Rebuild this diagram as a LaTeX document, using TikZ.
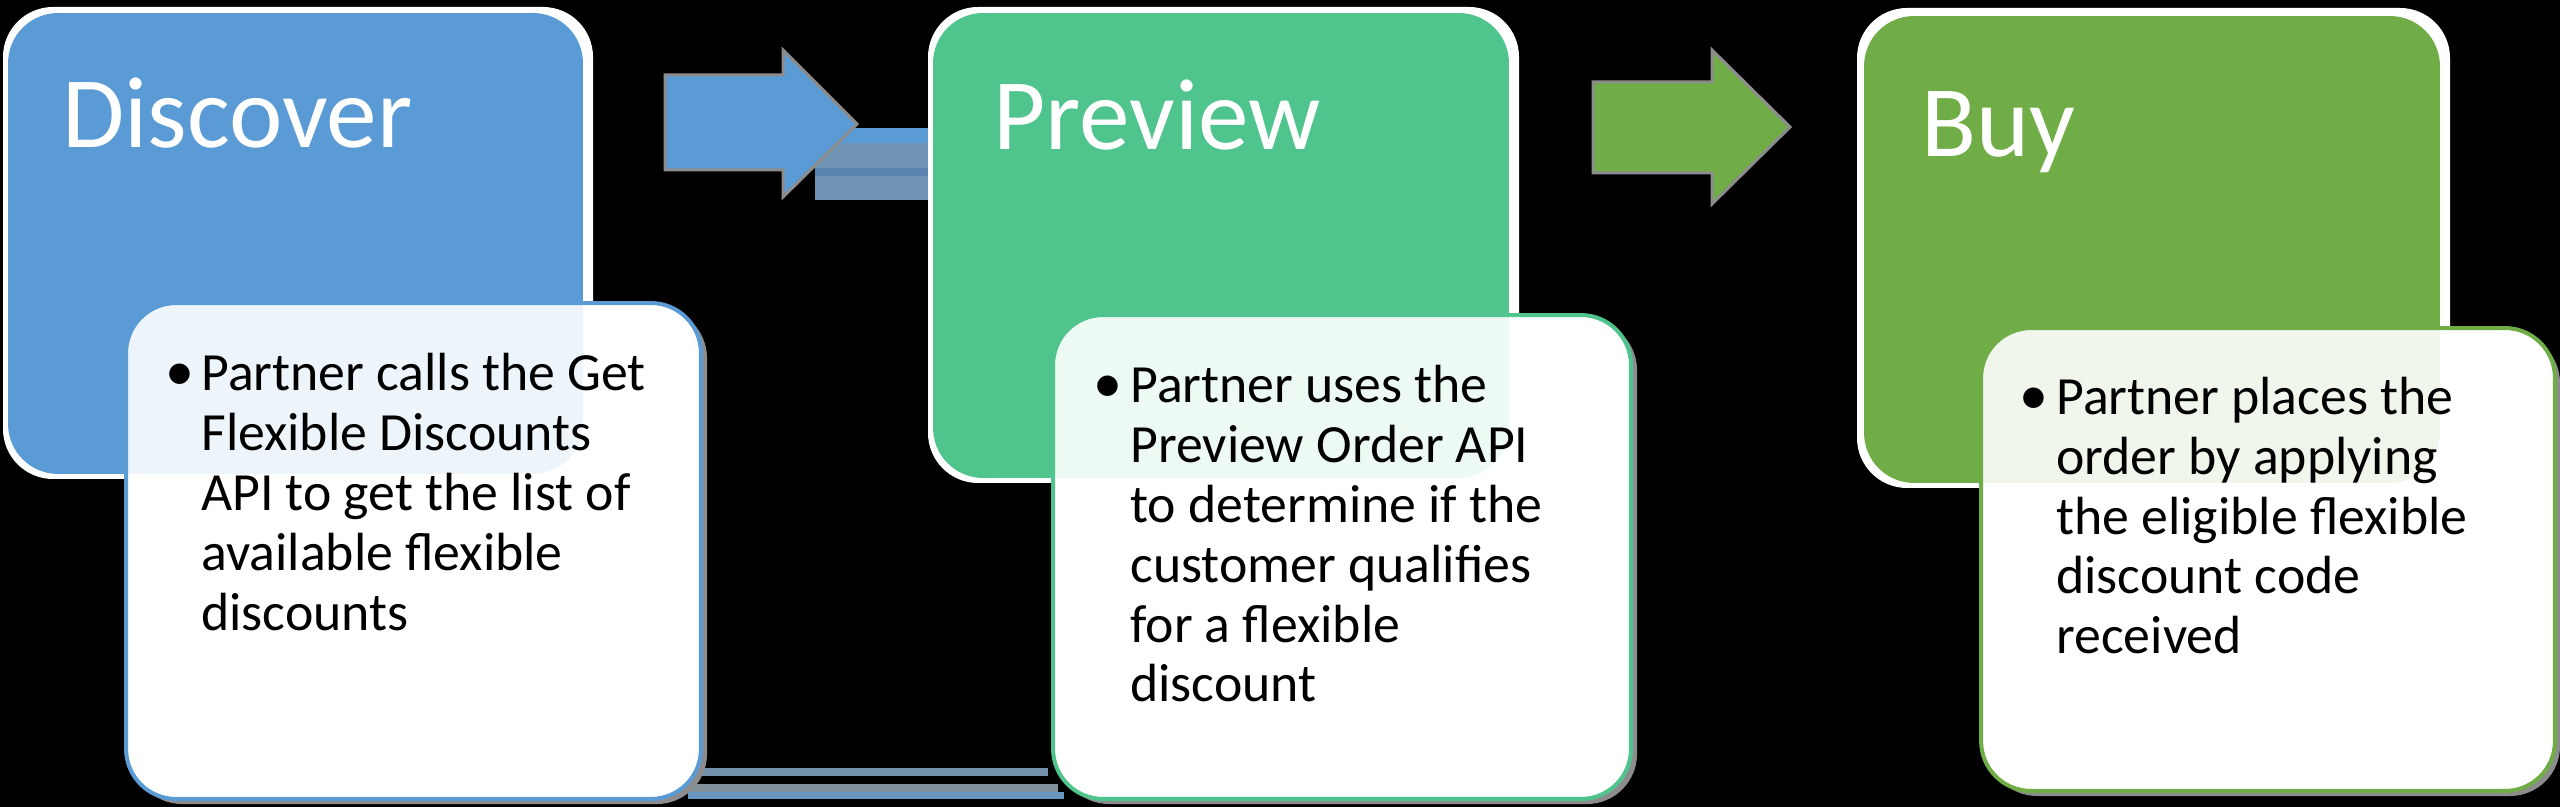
\documentclass[tikz,border=0pt]{standalone}
\usepackage{fontspec}
\setmainfont{Carlito}
\definecolor{cblue}{HTML}{5B9BD5}
\definecolor{cteal}{HTML}{4FC48D}
\definecolor{cgreen}{HTML}{70AD47}
\definecolor{cshadow}{HTML}{8C8C8C}
\definecolor{bandA}{HTML}{6E93B3}
\definecolor{bandB}{HTML}{5A82AE}
\definecolor{bandC}{HTML}{7290AC}
\definecolor{bandD}{HTML}{82909C}
\definecolor{bandE}{HTML}{6A97C2}
\begin{document}
\begin{tikzpicture}[x=0.02cm,y=-0.02cm,
  stage/.style={rectangle, rounded corners=1cm, inner sep=0pt, outer sep=0pt, draw=none},
  card/.style={rectangle, rounded corners=1cm, inner sep=0pt, outer sep=0pt, fill=white, fill opacity=0.9, line width=0.8mm},
  rim/.style={fill=white, rounded corners=1cm},
  shade/.style={fill=cshadow, rounded corners=1cm},
  solid/.style={fill=white, rounded corners=1cm},
  blockarrow/.style={draw=cshadow, line width=0.6mm, line join=miter},
  title/.style={font=\fontsize{57.6}{69}\selectfont, text=white, inner sep=0pt, anchor=base west},
  body/.style={font=\fontsize{30.6}{34.02}\selectfont, text=black, inner sep=0pt},
  dot/.style={font=\fontsize{33}{34.02}\selectfont, text=black, inner sep=0pt},
]
\useasboundingbox (0,0) rectangle (2560,807);
\fill[black] (0,0) rectangle (2560,807);

% faint bands
\fill[bandA] (815,128) rectangle (928,200);
\fill[cblue] (815,128) rectangle (928,143);
\fill[bandB] (815,168) rectangle (928,176);
\fill[bandC] (700,768) rectangle (1048,776);
\fill[bandD] (690,784) rectangle (1058,792);
\fill[bandE] (688,792) rectangle (1064,799);

% block arrows
\filldraw[blockarrow, fill=cblue] (665,75) -- (783,75) -- (783,50) -- (857,124) -- (783,197) -- (783,170) -- (665,170) -- cycle;
\filldraw[blockarrow, fill=cgreen] (1593,82) -- (1712,82) -- (1712,50) -- (1790,127) -- (1712,204) -- (1712,173) -- (1593,173) -- cycle;

% ---------- Discover ----------
\path[shade] (132,308) rectangle (707,804);
\path[solid] (126,303) rectangle (701,799);
\path[rim] (3,7) rectangle (593,479);
\node[stage, fill=cblue, minimum width=11.5cm, minimum height=9.22cm] (d) at (295.5,243.5) {};
\node[card, draw=cblue, minimum width=11.5cm, minimum height=9.92cm] (dw) at (413.5,551) {};
\node[title] (dt) at (62,148) {Discover};
\node[dot, anchor=base] (db) at (180,391) {•};
\node[body, anchor=base west] (dx) at (201,391) {\parbox[t]{12cm}{Partner calls the Get\\Flexible Discounts\\API to get the list of\\available flexible\\discounts}};

% ---------- Preview ----------
\path[shade] (1059,320) rectangle (1637,804);
\path[solid] (1053,315) rectangle (1631,799);
\path[rim] (928,7) rectangle (1519,483);
\node[stage, fill=cteal, minimum width=11.52cm, minimum height=9.3cm] (p) at (1221,245.5) {};
\node[card, draw=cteal, minimum width=11.56cm, minimum height=9.68cm] (pw) at (1342,557) {};
\node[title] (pt) at (993,150) {Preview};
\node[dot, anchor=base] (pb) at (1108,403) {•};
\node[body, anchor=base west] (px) at (1130,403) {\parbox[t]{12cm}{Partner uses the\\Preview Order API\\to determine if the\\customer qualifies\\for a flexible\\discount}};

% ---------- Buy ----------
\path[shade] (1987,333) rectangle (2560,796);
\path[solid] (1981,328) rectangle (2555,791);
\path[rim] (1857,8) rectangle (2450,488);
\node[stage, fill=cgreen, minimum width=11.52cm, minimum height=9.34cm] (b) at (2152,249.5) {};
\node[card, draw=cgreen, minimum width=11.48cm, minimum height=9.26cm] (bw) at (2268,559.5) {};
\node[title] (bt) at (1921,157) {Buy};
\node[dot, anchor=base] (bb) at (2034,414.5) {•};
\node[body, anchor=base west] (bx) at (2056,414.5) {\parbox[t]{12cm}{Partner places the\\order by applying\\the eligible flexible\\discount code\\received}};
\end{tikzpicture}
\end{document}
